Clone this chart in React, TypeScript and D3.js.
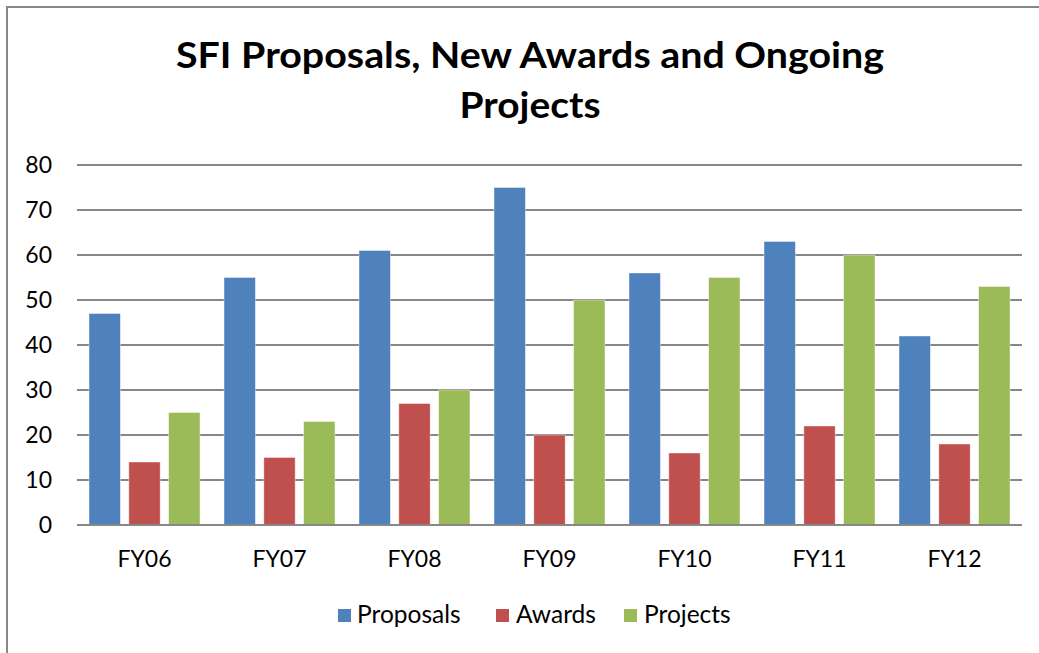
import React from "react";
import * as d3 from "d3";

const categories = ["FY06", "FY07", "FY08", "FY09", "FY10", "FY11", "FY12"];
const seriesNames = ["Proposals", "Awards", "Projects"];
const proposals = [47, 55, 61, 75, 56, 63, 42];
const awards = [14, 15, 27, 20, 16, 22, 18];
const projects = [25, 23, 30, 50, 55, 60, 53];
const yTicks = [0, 10, 20, 30, 40, 50, 60, 70, 80];
const colors = ["#4F81BD", "#C0504D", "#9BBB59"];
const titleLines = ["SFI Proposals, New Awards and Ongoing", "Projects"];

const W = 1039;
const H = 653;
const FONT = "Lato, 'Open Sans', sans-serif";

export default function App() {
  const seriesValues = [proposals, awards, projects];
  const x0 = d3
    .scaleBand<string>()
    .domain(categories)
    .range([77, 1022])
    .paddingInner(0.178)
    .paddingOuter(0.089);
  const x1 = d3
    .scaleBand<string>()
    .domain(seriesNames)
    .range([0, x0.bandwidth()])
    .paddingInner(0.2125)
    .paddingOuter(0);
  const y = d3.scaleLinear().domain([0, 80]).range([525, 165]);
  const catCenter = (c: string) => (x0(c) as number) + x0.bandwidth() / 2;

  const legendItems = [
    { name: "Proposals", sq: 338, tx: 357 },
    { name: "Awards", sq: 496, tx: 516 },
    { name: "Projects", sq: 624, tx: 644 },
  ];

  return (
    <svg
      width={W}
      height={H}
      style={{ position: "absolute", left: 0, top: 0, display: "block", background: "#fff" }}
    >
      <rect x={0} y={0} width={W} height={H} fill="#fff" />
      {/* chart border */}
      <path d={`M7,${H + 5} V7 H${W + 5}`} fill="none" stroke="#878787" strokeWidth={2} />

      {/* title */}
      <text
        x={530}
        y={68}
        textAnchor="middle"
        fontFamily={FONT}
        fontWeight={700}
        fontSize={37}
        textLength={708}
        lengthAdjust="spacingAndGlyphs"
        fill="#000"
      >
        {titleLines[0]}
      </text>
      <text
        x={530}
        y={118}
        textAnchor="middle"
        fontFamily={FONT}
        fontWeight={700}
        fontSize={37}
        textLength={141}
        lengthAdjust="spacingAndGlyphs"
        fill="#000"
      >
        {titleLines[1]}
      </text>

      {/* gridlines */}
      {yTicks.map((t) => (
        <line
          key={t}
          x1={77}
          x2={1022}
          y1={y(t)}
          y2={y(t)}
          stroke="#878787"
          strokeWidth={2}
        />
      ))}

      {/* y tick labels */}
      {yTicks.map((t) => (
        <text
          key={"l" + t}
          x={52}
          y={y(t)}
          dy="0.36em"
          textAnchor="end"
          fontFamily={FONT}
          fontSize={23}
          fill="#000"
        >
          {t}
        </text>
      ))}

      {/* bars */}
      {categories.map((c, i) => (
        <g key={c} transform={`translate(${x0(c)},0)`}>
          {seriesNames.map((s, j) => {
            const v = seriesValues[j][i];
            return (
              <rect
                key={s}
                x={x1(s) as number}
                y={y(v)}
                width={x1.bandwidth()}
                height={y(0) - y(v)}
                fill={colors[j]}
                stroke="rgba(255,255,255,0.5)"
                strokeWidth={0.8}
              />
            );
          })}
        </g>
      ))}

      {/* baseline */}
      <line x1={77} x2={1022} y1={y(0)} y2={y(0)} stroke="#878787" strokeWidth={2} />

      {/* category labels */}
      {categories.map((c) => (
        <text
          key={"c" + c}
          x={catCenter(c)}
          y={567}
          textAnchor="middle"
          fontFamily={FONT}
          fontSize={23}
          fill="#000"
        >
          {c}
        </text>
      ))}

      {/* legend */}
      {legendItems.map((it, j) => (
        <g key={it.name}>
          <rect x={it.sq} y={609} width={13} height={13} fill={colors[j]} />
          <text x={it.tx} y={623} fontFamily={FONT} fontSize={24.5} fill="#000">
            {it.name}
          </text>
        </g>
      ))}
    </svg>
  );
}
